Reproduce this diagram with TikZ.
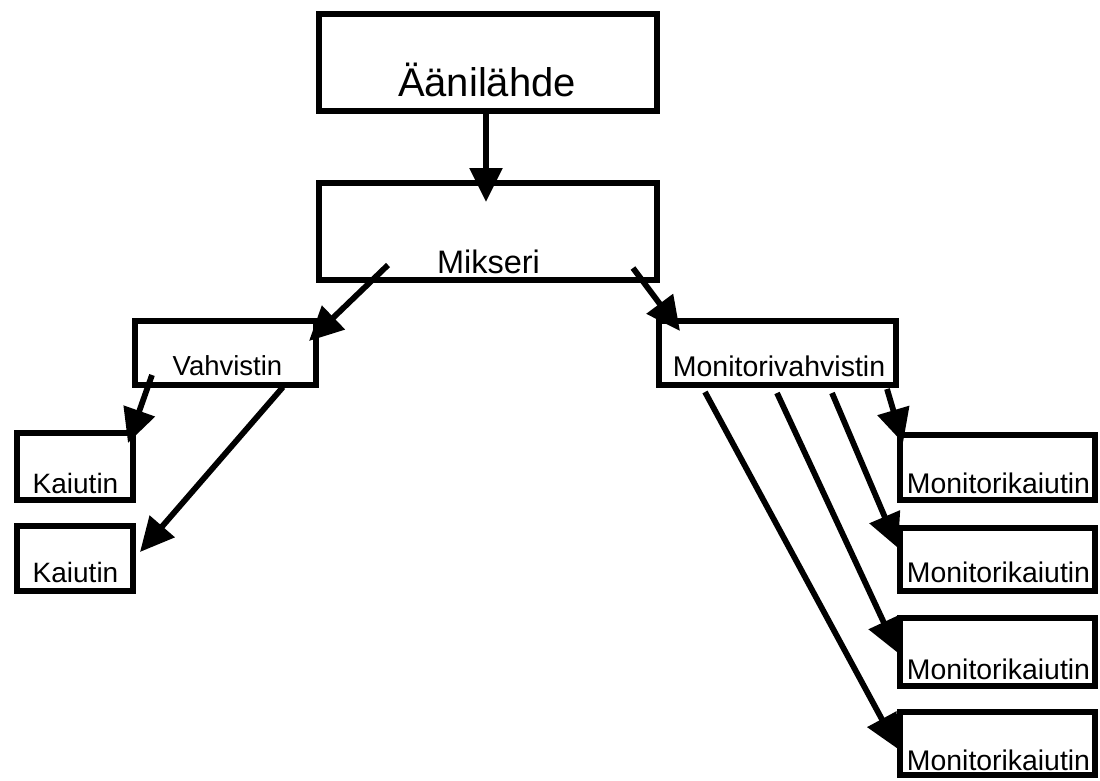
\documentclass[tikz,border=0pt]{standalone}
\usepackage{fontspec}
\setmainfont{Liberation Sans}
\usetikzlibrary{arrows.meta}
\begin{document}
\begin{tikzpicture}[x=1pt,y=-1pt,
  boxstyle/.style={draw=black,line width=5.8pt},
  lbl/.style={inner sep=0pt,anchor=base,text=black},
  conn/.style={line width=5.8pt,-{Triangle[length=34pt,width=32pt]}}]
\useasboundingbox (0,0) rectangle (1100,780);
\fill[white] (0,0) rectangle (1100,780);
% boxes
\draw[boxstyle] (319,14) rectangle (657,111);
\node[inner sep=0pt] (src) at (488,62.5) {};
\draw[boxstyle] (319,183) rectangle (657,280);
\node[inner sep=0pt] (mix) at (488,231.5) {};
\draw[boxstyle] (135,321) rectangle (316,385);
\node[inner sep=0pt] (amp) at (225.5,353) {};
\draw[boxstyle] (659,321) rectangle (896,385);
\node[inner sep=0pt] (mamp) at (777.5,353) {};
\draw[boxstyle] (17,433) rectangle (133,500);
\draw[boxstyle] (17,526) rectangle (133,591);
\draw[boxstyle] (900,435) rectangle (1095,500);
\draw[boxstyle] (900,528) rectangle (1095,591);
\draw[boxstyle] (900,618) rectangle (1095,686);
\draw[boxstyle] (900,712) rectangle (1095,775);
% labels
\node[lbl,font=\fontsize{40}{40}\selectfont] (tsrc) at (487,96) {Äänilähde};
\node[lbl,font=\fontsize{32.5}{32}\selectfont] (tmix) at (488.5,273) {Mikseri};
\node[lbl,font=\fontsize{27.5}{28}\selectfont] (tamp) at (227.5,375) {Vahvistin};
\node[lbl,font=\fontsize{28.5}{28}\selectfont] (tmamp) at (779,376) {Monitorivahvistin};
\node[lbl,font=\fontsize{28}{28}\selectfont] (tk1) at (75.5,493) {Kaiutin};
\node[lbl,font=\fontsize{28}{28}\selectfont] (tk2) at (75.5,582) {Kaiutin};
\node[lbl,font=\fontsize{28.4}{28}\selectfont] (tm1) at (998.5,493) {Monitorikaiutin};
\node[lbl,font=\fontsize{28.4}{28}\selectfont] (tm2) at (998.5,582) {Monitorikaiutin};
\node[lbl,font=\fontsize{28.4}{28}\selectfont] (tm3) at (998.5,679) {Monitorikaiutin};
\node[lbl,font=\fontsize{28.4}{28}\selectfont] (tm4) at (998.5,770) {Monitorikaiutin};
% connector end points
\coordinate (s0) at (486,113);  \coordinate (e0) at (486,202);
\coordinate (s1) at (388,265);  \coordinate (e1) at (309,341);
\coordinate (s2) at (633,268);  \coordinate (e2) at (680,331);
\coordinate (s3) at (152,375);  \coordinate (e3) at (128,443);
\coordinate (s4) at (283,387);  \coordinate (e4) at (140,552);
\coordinate (s5) at (887,389);  \coordinate (e5) at (903,443);
\coordinate (s6) at (832,393);  \coordinate (e6) at (898,548);
\coordinate (s7) at (777,393);  \coordinate (e7) at (898,653);
\coordinate (s8) at (705,392);  \coordinate (e8) at (898,749);
% connectors
\draw[conn] (s0) -- (e0);
\draw[conn] (s1) -- (e1);
\draw[conn] (s2) -- (e2);
\draw[conn] (s3) -- (e3);
\draw[conn] (s4) -- (e4);
\draw[conn] (s5) -- (e5);
\draw[conn] (s6) -- (e6);
\draw[conn] (s7) -- (e7);
\draw[conn] (s8) -- (e8);
\end{tikzpicture}
\end{document}
